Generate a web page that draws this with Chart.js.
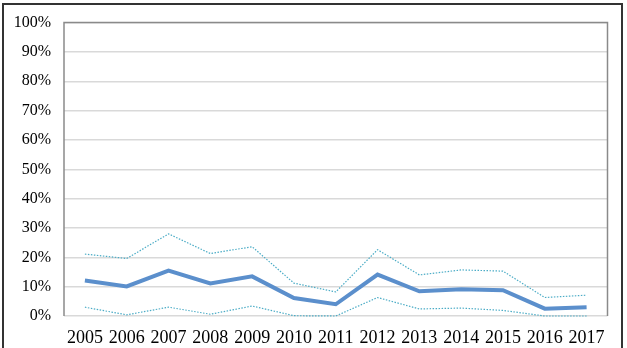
<!DOCTYPE html>
<html>
<head>
<meta charset="utf-8">
<script src="https://cdn.jsdelivr.net/npm/chart.js@4/dist/chart.umd.min.js"></script>
<style>
  html, body { margin: 0; padding: 0; background: #fff; }
  #wrap { position: relative; width: 627px; height: 348px; overflow: hidden; }
  #frame { position: absolute; left: 2px; top: 3px; width: 617px; height: 360px;
           border: 2px solid #333; border-bottom: none; pointer-events: none; }
  canvas { position: absolute; left: 0; top: 0; }
</style>
</head>
<body>
<div id="wrap">
  <canvas id="chart" width="627" height="348"></canvas>
  <div id="frame"></div>
</div>
<script>
const years = ['2005', '2006', '2007', '2008', '2009', '2010', '2011', '2012', '2013', '2014', '2015', '2016', '2017'];
const mean = [12.1, 10.1, 15.5, 11.1, 13.5, 6.1, 4.0, 14.1, 8.4, 9.1, 8.8, 2.5, 3.0];
const upper = [21.1, 19.6, 28.0, 21.3, 23.6, 11.2, 8.2, 22.6, 14.0, 15.7, 15.3, 6.3, 7.1];
const lower = [3.0, 0.4, 3.0, 0.6, 3.4, 0.1, 0.0, 6.3, 2.4, 2.7, 1.9, 0.0, 0.0];

// box round the plot area (left, top, right)
const plotBox = {
  id: 'plotBox',
  afterDraw(chart) {
    const { ctx, chartArea: a } = chart;
    ctx.save();
    ctx.strokeStyle = '#8a8a8a';
    ctx.lineWidth = 1.5;
    ctx.beginPath();
    ctx.moveTo(a.left, a.bottom);
    ctx.lineTo(a.left, a.top);
    ctx.lineTo(a.right, a.top);
    ctx.lineTo(a.right, a.bottom);
    ctx.stroke();
    ctx.restore();
  }
};

const serif = '"Liberation Serif", "Times New Roman", serif';

new Chart(document.getElementById('chart'), {
  type: 'line',
  data: {
    labels: years,
    datasets: [
      { data: upper, borderColor: '#4bacc6', borderWidth: 1.2, borderDash: [1.5, 1.5], pointRadius: 0, tension: 0, clip: false },
      { data: lower, borderColor: '#4bacc6', borderWidth: 1.2, borderDash: [1.5, 1.5], pointRadius: 0, tension: 0, clip: false },
      { data: mean, borderColor: '#5b8fcc', borderWidth: 4, pointRadius: 0, tension: 0 }
    ]
  },
  options: {
    responsive: false,
    animation: false,
    layout: { padding: { left: 0, top: 19, right: 19.5, bottom: 0 } },
    plugins: { legend: { display: false }, tooltip: { enabled: false } },
    scales: {
      x: {
        offset: true,
        grid: { display: false, drawTicks: false },
        border: { display: false },
        ticks: { color: '#000', font: { family: serif, size: 18 }, padding: 11, maxRotation: 0, autoSkip: false },
        afterFit(s) { s.height = 32; }
      },
      y: {
        min: 0, max: 100,
        grid: { color: '#d9d9d9', lineWidth: 1.5, drawTicks: false },
        border: { display: false },
        ticks: { stepSize: 10, color: '#000', font: { family: serif, size: 16 }, padding: 13,
                 callback: v => v + '%' },
        afterFit(s) { s.width = 64; }
      }
    }
  },
  plugins: [plotBox]
});
</script>
</body>
</html>
